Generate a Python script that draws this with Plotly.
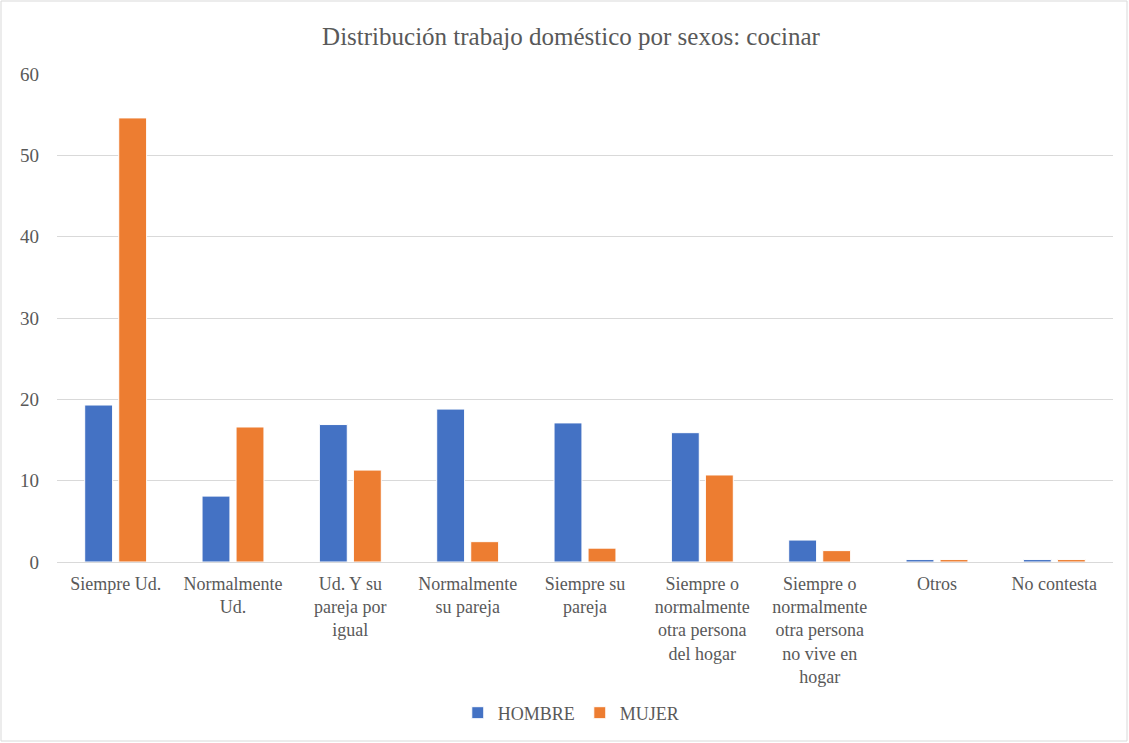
import plotly.graph_objects as go

categorias = [
    "Siempre Ud.",
    "Normalmente<br>Ud.",
    "Ud. Y su<br>pareja por<br>igual",
    "Normalmente<br>su pareja",
    "Siempre su<br>pareja",
    "Siempre o<br>normalmente<br>otra persona<br>del hogar",
    "Siempre o<br>normalmente<br>otra persona<br>no vive en<br>hogar",
    "Otros",
    "No contesta",
]
hombre = [19.3, 8.1, 16.9, 18.8, 17.1, 15.9, 2.7, 0.3, 0.3]
mujer = [54.6, 16.6, 11.3, 2.5, 1.7, 10.7, 1.4, 0.3, 0.3]
ticks_y = [0, 10, 20, 30, 40, 50, 60]

W, H = 1129, 743
L, R, T, B = 57, 16, 74, 181
pw, ph = W - L - R, H - T - B

font_fam = "Liberation Serif, Times New Roman, serif"
gris = "#595959"

fig = go.Figure()
fig.add_trace(go.Bar(name="HOMBRE", x=categorias, y=hombre,
                     marker=dict(color="#4472C4", line=dict(color="white", width=1))))
fig.add_trace(go.Bar(name="MUJER", x=categorias, y=mujer,
                     marker=dict(color="#ED7D31", line=dict(color="white", width=1))))

# marco exterior del gráfico
fig.add_shape(type="rect", xref="paper", yref="paper",
              x0=(1 - L) / pw, x1=(W - 2 - L) / pw,
              y0=-(H - 2 - (T + ph)) / ph, y1=(T + ph - 1) / ph,
              line=dict(color="#d9d9d9", width=1), fillcolor="rgba(0,0,0,0)", layer="below")

fig.update_layout(
    width=W, height=H,
    margin=dict(l=L, r=R, t=T, b=B, pad=0),
    paper_bgcolor="white", plot_bgcolor="white",
    barmode="group", bargap=0.42, bargroupgap=0.18,
    title=dict(text="Distribución trabajo doméstico por sexos: cocinar",
               x=(571 - L) / pw, xref="paper", xanchor="center",
               y=1 - 36 / H, yanchor="middle",
               font=dict(family=font_fam, size=25, color=gris)),
    font=dict(family=font_fam, size=18, color=gris),
    legend=dict(orientation="h", x=0.487, xanchor="center", y=-(713 - 562) / ph,
                yanchor="middle", font=dict(family=font_fam, size=18, color=gris),
                itemwidth=30, tracegroupgap=0),
    showlegend=True,
)
fig.update_yaxes(range=[0, 60], tickvals=ticks_y, showgrid=True, gridcolor="#d9d9d9",
                 gridwidth=1, zeroline=False, showline=False, ticks="",
                 tickfont=dict(family=font_fam, size=19, color=gris), ticklabelstandoff=17)
fig.update_xaxes(showgrid=False, showline=True, linecolor="#d9d9d9", linewidth=1,
                 ticks="", tickfont=dict(family=font_fam, size=18, color=gris),
                 tickangle=0, ticklabelstandoff=5)

fig.write_html("out.html")
